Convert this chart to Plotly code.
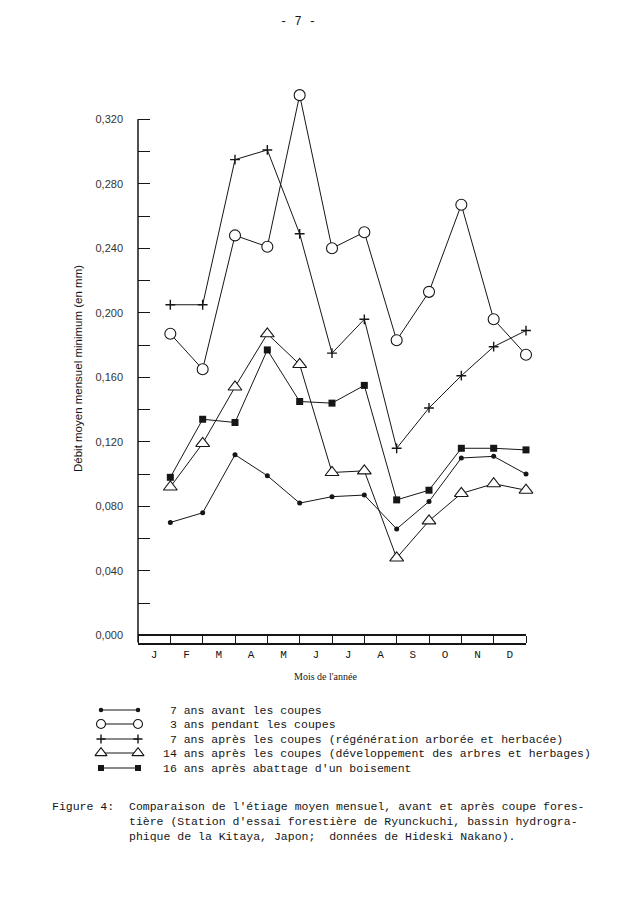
import plotly.graph_objects as go

# mois (points placés en fin de mois)
mois = ["J", "F", "M", "A", "M", "J", "J", "A", "S", "O", "N", "D"]

# débit moyen mensuel minimum (en mm)
avant_7ans = [0.070, 0.076, 0.112, 0.099, 0.082, 0.086, 0.087, 0.066, 0.083, 0.110, 0.111, 0.100]
pendant_3ans = [0.187, 0.165, 0.248, 0.241, 0.335, 0.240, 0.250, 0.183, 0.213, 0.267, 0.196, 0.174]
apres_7ans = [0.205, 0.205, 0.295, 0.301, 0.249, 0.175, 0.196, 0.116, 0.141, 0.161, 0.179, 0.189]
apres_14ans = [0.092, 0.119, 0.154, 0.187, 0.168, 0.101, 0.102, 0.048, 0.071, 0.088, 0.094, 0.090]
abattage_16ans = [0.098, 0.134, 0.132, 0.177, 0.145, 0.144, 0.155, 0.084, 0.090, 0.116, 0.116, 0.115]

y_ticks = [0.000, 0.040, 0.080, 0.120, 0.160, 0.200, 0.240, 0.280, 0.320]
y_labels = ["0,000", "0,040", "0,080", "0,120", "0,160", "0,200", "0,240", "0,280", "0,320"]
y_minor = [0.020, 0.060, 0.100, 0.140, 0.180, 0.220, 0.260, 0.300]

legende = [
    "\u00a07 ans avant les coupes",
    "\u00a03 ans pendant les coupes",
    "\u00a07 ans après les coupes (régénération arborée et herbacée)",
    "14 ans après les coupes (développement des arbres et herbages)",
    "16 ans après abattage d'un boisement",
]

INK = "#161616"
OFF = 8  # marge par défaut du <body> de la page
W, H = 631 - OFF, 914 - OFF
# zone du graphique en pixels (coordonnées de la page)
PX_L, PX_R, PX_T, PX_B = 138, 526, 79, 642.6
Y_MIN, Y_MAX = -0.0045, 0.345

def ypx(v):
    return PX_T + (Y_MAX - v) / (Y_MAX - Y_MIN) * (PX_B - PX_T)

styles = [
    dict(symbol="circle", size=5, color=INK, line=dict(width=0)),
    dict(symbol="circle", size=11, color="white", line=dict(width=1.1, color=INK)),
    dict(symbol="cross-thin", size=7, color=INK, line=dict(width=1.4, color=INK)),
    dict(symbol="triangle-up", size=12, color="white", line=dict(width=1.1, color=INK)),
    dict(symbol="square", size=7, color=INK, line=dict(width=0)),
]
# tailles un peu plus petites dans la légende
leg_sizes = [4.5, 9, 6.5, 10.5, 6]
series = [avant_7ans, pendant_3ans, apres_7ans, apres_14ans, abattage_16ans]

x_pts = [i + 1 for i in range(len(mois))]

fig = go.Figure()
for vals, st in zip(series, styles):
    fig.add_trace(go.Scatter(
        x=x_pts, y=vals, mode="lines+markers",
        line=dict(color=INK, width=1), marker=st,
        showlegend=False, cliponaxis=False, xaxis="x", yaxis="y",
    ))

# légende dessinée à la main (repère en pixels de la page)
leg_y = [710, 724, 739, 753, 768]
for st, sz, yy in zip(styles, leg_sizes, leg_y):
    fig.add_trace(go.Scatter(
        x=[101, 138], y=[yy, yy], mode="lines+markers",
        line=dict(color=INK, width=1.2), marker=dict(st, size=sz),
        showlegend=False, xaxis="x2", yaxis="y2",
    ))

ann = []
for yy, txt in zip(leg_y, legende):
    ann.append(dict(x=161, y=yy, text=txt, xanchor="left", yanchor="middle"))
ann.append(dict(x=50, y=806, text="Figure 4:", xanchor="left", yanchor="middle"))
caption = [
    "Comparaison de l'étiage moyen mensuel, avant et après coupe fores-",
    "tière (Station d'essai forestière de Ryunckuchi, bassin hydrogra-",
    "phique de la Kitaya, Japon;  données de Hideski Nakano).",
]
for i, line in enumerate(caption):
    ann.append(dict(x=127, y=806 + i * 15, text=line, xanchor="left", yanchor="middle"))
for a in ann:
    a.update(font=dict(family="Liberation Mono", size=11.5, color=INK))
ann.append(dict(x=298, y=22, text="- 7 -",
                font=dict(family="Liberation Mono", size=12, color=INK)))
ann.append(dict(x=325, y=676, text="Mois de l'année",
                font=dict(family="Liberation Serif", size=10, color=INK)))
ann.append(dict(x=78, y=369, text="Débit moyen mensuel minimum (en mm)", textangle=-90,
                font=dict(family="Liberation Sans", size=11.5, color=INK)))
for a in ann:
    a.update(xref="x2", yref="y2", showarrow=False)

fig.update_layout(
    width=W, height=H,
    margin=dict(l=0, r=0, t=0, b=0),
    paper_bgcolor="white", plot_bgcolor="rgba(0,0,0,0)",
    showlegend=False,
    annotations=ann,
    shapes=[dict(type="line", xref="x2", yref="y2", x0=PX_L, x1=PX_L,
                 y0=ypx(0.32), y1=PX_B, line=dict(color=INK, width=1.5))],
    xaxis=dict(
        domain=[(PX_L - OFF) / W, (PX_R - OFF) / W], range=[0, 12], anchor="y",
        tickvals=[i + 0.5 for i in range(len(mois))], ticktext=mois,
        ticks="", showline=True, linecolor=INK, linewidth=1.5,
        showgrid=False, zeroline=False, ticklabelstandoff=0,
        tickfont=dict(family="Liberation Mono", size=11, color=INK),
        minor=dict(tickvals=list(range(0, 13)), ticks="inside", ticklen=7,
                   tickwidth=1.3, tickcolor=INK),
    ),
    yaxis=dict(
        domain=[1 - (PX_B - OFF) / H, 1 - (PX_T - OFF) / H], range=[Y_MIN, Y_MAX], anchor="x",
        tickvals=y_ticks, ticktext=y_labels,
        ticks="inside", ticklen=12, tickwidth=1.3, tickcolor=INK,
        showline=False, showgrid=False,
        zeroline=True, zerolinecolor=INK, zerolinewidth=1.5,
        ticklabelstandoff=14,
        tickfont=dict(family="Liberation Sans", size=11, color="#333"),
        minor=dict(tickvals=y_minor, ticks="inside", ticklen=12,
                   tickwidth=1.3, tickcolor=INK),
    ),
    # repère invisible en pixels de la page, pour la légende et les textes
    xaxis2=dict(domain=[0, 1], range=[OFF, OFF + W], anchor="y2", visible=False),
    yaxis2=dict(domain=[0, 1], range=[OFF + H, OFF], anchor="x2", visible=False),
)

fig.write_html("out.html")
